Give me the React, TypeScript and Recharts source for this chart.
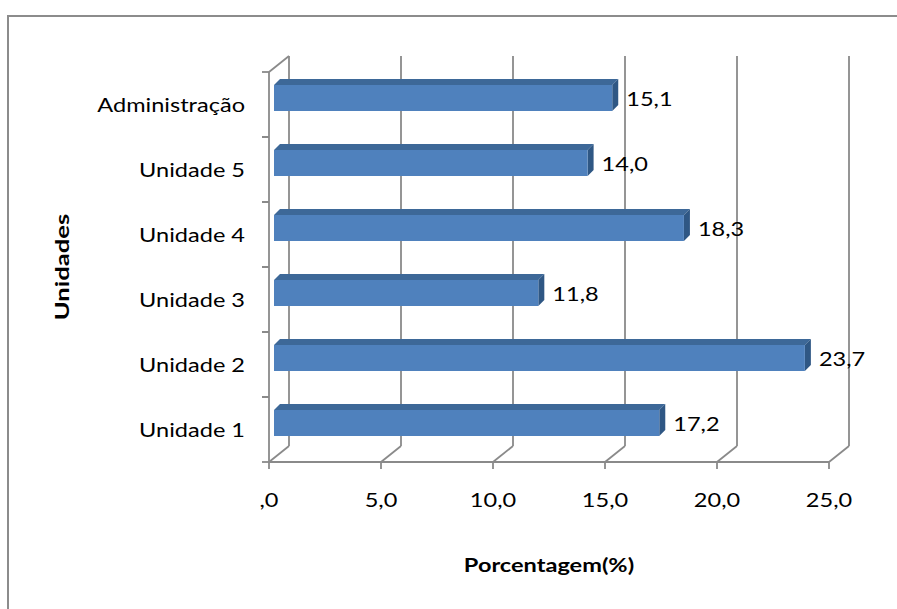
import React from 'react';
import { BarChart, Bar, XAxis, YAxis, CartesianGrid, LabelList } from 'recharts';

const categorias = ['Unidade 1', 'Unidade 2', 'Unidade 3', 'Unidade 4', 'Unidade 5', 'Administração'];
const porcentagens = [17.2, 23.7, 11.8, 18.3, 14.0, 15.1];
const ticksX = [0, 5, 10, 15, 20, 25];

const data = categorias.map((nome, i) => ({ nome, valor: porcentagens[i] }));

const W = 897;
const H = 609;
// plano das barras (meio da profundidade)
const TOP = 65;
const BOTTOM = 455;
const LEFT = 274;
const RIGHT = 834;
const BAND = (BOTTOM - TOP) / categorias.length;
// deslocamento do plano frontal e da parede do fundo em relação às barras
const FRONT = { dx: -5, dy: 7 };
const BACK = { dx: 15, dy: -9 };
const D = 6; // profundidade visível da barra
const Y_AXIS_W = 100;
const X_AXIS_H = 30;

const FONT = 'Lato, "Open Sans", sans-serif';
const GRID = '#8a8a8a';
const SX = 1.24; // fonte levemente alargada

const fmt = (v: number) => (v === 0 ? ',0' : v.toFixed(1).replace('.', ','));

// texto com escala horizontal em torno do ponto de ancoragem
const Texto = ({ x, y, anchor = 'start', bold = false, rot = 0, sx = SX, children }: any) => (
  <g transform={`translate(${x} ${y}) rotate(${rot}) scale(${sx} 1)`}>
    <text
      x={0}
      y={0}
      textAnchor={anchor}
      dominantBaseline="central"
      fontFamily={FONT}
      fontSize={19}
      fontWeight={bold ? 'bold' : 'normal'}
      fill="#000"
    >
      {children}
    </text>
  </g>
);

// linhas de grade da parede do fundo + chão em perspectiva
const GradeFundo = (props: any) => {
  const { x1, y1, y2 } = props;
  const bx = x1 + BACK.dx;
  const fx = x1 + FRONT.dx;
  const topB = y1 + BACK.dy;
  const botB = y2 + BACK.dy;
  const botF = y2 + FRONT.dy;
  const first = Math.abs(x1 - LEFT) < 1;
  return (
    <g stroke={GRID} strokeWidth={1.8} fill="none">
      <line x1={bx} y1={topB} x2={bx} y2={botB} />
      <line x1={bx} y1={botB} x2={fx} y2={botF} />
      <line x1={fx} y1={botF} x2={fx} y2={botF + 7} />
      {first && (
        <>
          <line x1={fx} y1={y1 + FRONT.dy} x2={fx} y2={botF} />
          <line x1={fx} y1={y1 + FRONT.dy} x2={bx} y2={topB} />
          <line x1={fx} y1={botF} x2={RIGHT + FRONT.dx} y2={botF} />
        </>
      )}
    </g>
  );
};

const TickX = ({ x, payload }: any) => (
  <Texto x={x + FRONT.dx} y={500} anchor="middle">
    {fmt(payload.value)}
  </Texto>
);

const TickY = ({ y, payload }: any) => {
  const fx = LEFT + FRONT.dx;
  const yTop = y - BAND / 2 + FRONT.dy;
  const yBot = y + BAND / 2 + FRONT.dy;
  return (
    <g>
      <line x1={fx - 7} y1={yTop} x2={fx} y2={yTop} stroke={GRID} strokeWidth={1.8} />
      <line x1={fx - 7} y1={yBot} x2={fx} y2={yBot} stroke={GRID} strokeWidth={1.8} />
      <Texto x={245} y={y + FRONT.dy} anchor="end">
        {payload.value}
      </Texto>
    </g>
  );
};

// barra 3D: face frontal, topo e lateral
const Barra3D = ({ x, y, width, height }: any) => (
  <g>
    <polygon
      points={`${x},${y} ${x + D},${y - D} ${x + width + D},${y - D} ${x + width},${y}`}
      fill="#3D6898"
    />
    <polygon
      points={`${x + width},${y} ${x + width + D},${y - D} ${x + width + D},${y + height - D} ${x + width},${y + height}`}
      fill="#2F5784"
    />
    <rect x={x} y={y} width={width} height={height} fill="#4F81BD" />
  </g>
);

const RotuloValor = ({ x, y, width, height, value }: any) => (
  <Texto x={x + width + D + 8} y={y + height / 2 + 1}>
    {fmt(value)}
  </Texto>
);

export default function App() {
  const meioY = (TOP + BOTTOM) / 2 + FRONT.dy;
  return (
    <div style={{ position: 'absolute', left: 0, top: 0, width: W, height: H, background: '#fff' }}>
      <div
        style={{
          position: 'absolute',
          left: 7,
          top: 15,
          width: 900,
          height: 600,
          borderLeft: '2px solid #8c8c8c',
          borderTop: '2px solid #8c8c8c',
        }}
      />
      <BarChart
        width={W}
        height={H}
        data={data}
        layout="vertical"
        margin={{ top: TOP, bottom: H - BOTTOM - X_AXIS_H, left: LEFT - Y_AXIS_W, right: W - RIGHT }}
        barSize={26}
        style={{ position: 'absolute', left: 0, top: 0 }}
      >
        <CartesianGrid horizontal={false} vertical={GradeFundo} />
        <XAxis
          type="number"
          domain={[0, 25]}
          ticks={ticksX}
          height={X_AXIS_H}
          axisLine={false}
          tickLine={false}
          tick={TickX}
          label={{
            content: ({ viewBox }: any) => (
              <Texto x={viewBox.x + viewBox.width / 2 + FRONT.dx} y={565} anchor="middle" bold>
                Porcentagem(%)
              </Texto>
            ),
          }}
        />
        <YAxis
          type="category"
          dataKey="nome"
          reversed
          width={Y_AXIS_W}
          axisLine={false}
          tickLine={false}
          tick={TickY}
          interval={0}
          label={{
            content: () => (
              <Texto x={62} y={meioY} anchor="middle" bold rot={-90} sx={1.35}>
                Unidades
              </Texto>
            ),
          }}
        />
        <Bar dataKey="valor" shape={Barra3D} isAnimationActive={false}>
          <LabelList dataKey="valor" content={RotuloValor} />
        </Bar>
      </BarChart>
    </div>
  );
}
